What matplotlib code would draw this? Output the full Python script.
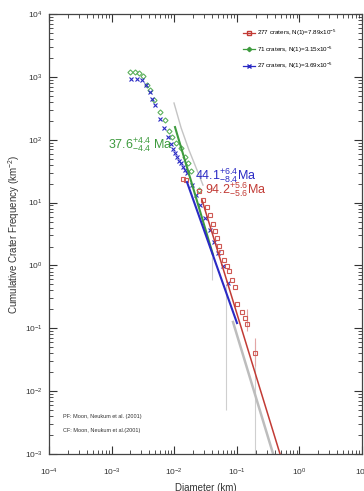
import matplotlib
matplotlib.use('Agg')
import matplotlib.pyplot as plt
from matplotlib.ticker import LogLocator, NullFormatter

plt.rcParams['font.family'] = ['Liberation Sans', 'DejaVu Sans']
plt.rcParams['mathtext.fontset'] = 'custom'
plt.rcParams['mathtext.rm'] = 'Liberation Sans'
plt.rcParams['mathtext.it'] = 'Liberation Sans:italic'
plt.rcParams['mathtext.bf'] = 'Liberation Sans:bold'

# 277 craters (red squares)
d_red = [0.0138, 0.0154, 0.0249, 0.0288, 0.0334, 0.0373, 0.0417, 0.0449, 0.0483, 0.052,
         0.056, 0.0625, 0.0697, 0.075, 0.0838, 0.0935, 0.101, 0.121, 0.135, 0.146, 0.195]
n_red = [23.7, 22.9, 15.3, 11.0, 8.51, 6.34, 4.56, 3.53, 2.73, 2.04,
         1.64, 1.22, 0.98, 0.817, 0.587, 0.454, 0.244, 0.182, 0.146, 0.117, 0.0405]

# 71 craters (green diamonds)
d_green = [0.00197, 0.00237, 0.00274, 0.00318, 0.00367, 0.0041, 0.00475, 0.00593, 0.00713,
           0.00826, 0.00923, 0.0107, 0.0129, 0.0149, 0.0166, 0.0185, 0.0249]
n_green = [1195, 1180, 1151, 1033, 741, 618, 429, 276, 206,
           138, 110, 88.7, 73.8, 53.1, 42.7, 31.8, 15.8]

# 27 craters (blue crosses)
d_blue = [0.00204, 0.00255, 0.00306, 0.00355, 0.0041, 0.00442, 0.00493, 0.00593, 0.00687,
          0.00796, 0.00889, 0.00957, 0.0103, 0.0111, 0.0119, 0.0129, 0.0138, 0.0149, 0.016,
          0.0192, 0.0223, 0.0258, 0.031, 0.0373, 0.0433, 0.0501, 0.0603, 0.0723]
n_blue = [925, 910, 891, 741, 574, 445, 356, 214, 153,
          110, 85.5, 71.1, 61.5, 53.1, 45.8, 42.7, 36.8, 33.0, 29.6,
          19.1, 13.2, 9.14, 5.69, 3.66, 2.36, 1.58, 0.98, 0.526]

# fitted isochrons
fit_red_d = [0.0278, 0.49]
fit_red_n = [11.0, 0.001]
fit_green_d = [0.0103, 0.0417]
fit_green_n = [159, 1.47]
fit_blue_d = [0.016, 0.1007]
fit_blue_n = [21.2, 0.121]

# production function outside fit ranges (gray)
pf_up_d = [0.00993, 0.0129, 0.0172, 0.0231, 0.0288]
pf_up_n = [384, 154, 68.6, 33.0, 19.0]
pf_low_d = [0.0869, 0.407]
pf_low_n = [0.126, 0.0008]

# error bars
err_gray_d = [0.0402, 0.0671, 0.195]
err_gray_lo = [0.586, 0.00501, 0.0005]
err_gray_hi = [1.36, 0.489, 0.06]
err_red_d = [0.146, 0.195]
err_red_lo = [0.09, 0.025]
err_red_hi = [0.2, 0.07]

labels = ['277 craters, N(1)=7.89x10$^{-5}$',
          '71 craters, N(1)=3.15x10$^{-5}$',
          '27 craters, N(1)=3.69x10$^{-5}$']

c_red = '#c23b35'
c_green = '#3e9b3e'
c_blue = '#2a2ac4'
c_gray = '#bdbdbd'

fig = plt.figure(figsize=(3.64, 4.91), dpi=100)
ax = fig.add_axes([0.1346, 0.0754, 0.86, 0.896])

ax.vlines(err_gray_d, err_gray_lo, err_gray_hi, color='#cfcfcf', lw=0.8, zorder=1)
ax.vlines(err_red_d, err_red_lo, err_red_hi, color='#e3a5a5', lw=0.8, zorder=1)

ax.plot(pf_up_d, pf_up_n, color='#c4c4c4', lw=1.0, zorder=2)
ax.plot(pf_low_d, pf_low_n, color=c_gray, lw=1.8, zorder=2)

ax.plot(d_green, n_green, 'D', ms=2.6, mfc='none', mec='#5cb05c', mew=0.8, zorder=3)
ax.plot(d_blue, n_blue, 'x', ms=3.2, color=c_blue, mew=0.8, zorder=3)
ax.plot(d_red, n_red, 's', ms=3.4, mfc='none', mec='#cf5a55', mew=0.8, zorder=3)

ax.plot(fit_green_d, fit_green_n, color=c_green, lw=1.5, zorder=4)
ax.plot(fit_blue_d, fit_blue_n, color=c_blue, lw=1.5, zorder=4)
ax.plot(fit_red_d, fit_red_n, color=c_red, lw=1.1, zorder=4)

# legend handles
h1, = ax.plot([], [], color=c_red, marker='s', ms=3, mfc='none', lw=0.9)
h2, = ax.plot([], [], color=c_green, marker='D', ms=2.2, lw=0.9)
h3, = ax.plot([], [], color=c_blue, marker='x', ms=3, lw=0.9)
ax.legend([h1, h2, h3], labels, loc='upper left', bbox_to_anchor=(0.62, 0.968),
          frameon=False, fontsize=4.5, handlelength=1.9, handletextpad=0.4,
          labelspacing=0.95, borderpad=0, borderaxespad=0)

ax.text(0.000875, 73.8, r'37.6$^{+4.4}_{-4.4}$ Ma', color=c_green, fontsize=9, va='baseline')
ax.text(0.0215, 22.9, r'44.1$^{+6.4}_{-8.4}$Ma', color=c_blue, fontsize=9, va='baseline')
ax.text(0.031, 14.2, r'94.2$^{+5.6}_{-5.6}$Ma', color=c_red, fontsize=9, va='baseline')

ax.text(0.045, 0.082, 'PF: Moon, Neukum et al. (2001)', transform=ax.transAxes, fontsize=4, color='#333333')
ax.text(0.045, 0.05, 'CF: Moon, Neukum et al.(2001)', transform=ax.transAxes, fontsize=4, color='#333333')

ax.set_xscale('log')
ax.set_yscale('log')
ax.set_xlim(1e-4, 1e1)
ax.set_ylim(1e-3, 1e4)

ax.xaxis.set_major_locator(LogLocator(base=10, numticks=10))
ax.yaxis.set_major_locator(LogLocator(base=10, numticks=10))
ax.xaxis.set_minor_locator(LogLocator(base=10, subs=range(2, 10), numticks=20))
ax.yaxis.set_minor_locator(LogLocator(base=10, subs=range(2, 10), numticks=20))
ax.xaxis.set_minor_formatter(NullFormatter())
ax.yaxis.set_minor_formatter(NullFormatter())

ax.tick_params(which='both', direction='in', top=True, right=True, labelsize=6, colors='#333333')
ax.tick_params(which='major', length=6, width=0.8)
ax.tick_params(which='minor', length=3, width=0.6)
ax.tick_params(axis='x', which='major', pad=9)
ax.tick_params(axis='y', which='major', pad=4.5)
for s in ax.spines.values():
    s.set_linewidth(0.9)
    s.set_color('#444444')

ax.set_xlabel('Diameter (km)', fontsize=7, color='#333333', labelpad=4)
ax.set_ylabel('Cumulative Crater Frequency (km$^{-2}$)', fontsize=7, color='#333333', labelpad=2)

fig.savefig('out.png', dpi=100)
